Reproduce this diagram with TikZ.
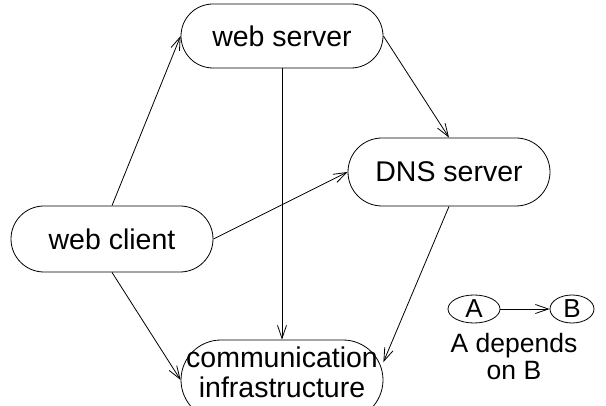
\documentclass[tikz,border=0pt]{standalone}
\usepackage{fontspec}
\setmainfont{Liberation Sans}
\usetikzlibrary{arrows.meta, shapes.misc, shapes.geometric}

\begin{document}
\begin{tikzpicture}[x=1pt, y=-1pt, line width=0.8pt, >={Straight Barb[length=13pt,width=9pt]},
	box/.style={draw, rounded rectangle, minimum width=202pt, minimum height=66pt, inner sep=0pt, align=center, font=\fontsize{28.5}{30}\selectfont},
	oval/.style={draw, ellipse, minimum height=28pt, inner sep=0pt, font=\fontsize{26}{26}\selectfont}]
	\useasboundingbox (0,0) rectangle (606,406);
	% services
	\node[box, minimum height=64pt] (server) at (282,36) {web server};
	\node[box, minimum height=68pt] (dns) at (449,172) {DNS server};
	\node[box] (client) at (112,239) {web client};
	\node[box, rectangle, rounded corners=40pt, minimum height=80pt, text depth=16pt] (comm) at (282,380) {communication\\infrastructure};
	% dependencies
	\draw[->] (client.north) -- (server.west);
	\draw[->] (client.east) -- (dns.west);
	\draw[->] (client.south) -- (comm.west);
	\draw[->] (server.south) -- (comm.north);
	\draw[->] (server.east) -- (dns.north);
	\draw[->] (dns.south) -- (comm.10);
	% legend
	\node[oval, minimum width=52pt] (a) at (474,309) {A};
	\node[oval, minimum width=44pt] (b) at (572,309) {B};
	\draw[->] (a) -- (b);
	\node[align=center, inner sep=0pt, font=\fontsize{26.5}{27}\selectfont] (note) at (514,357) {A depends\\on B};
\end{tikzpicture}
\end{document}
